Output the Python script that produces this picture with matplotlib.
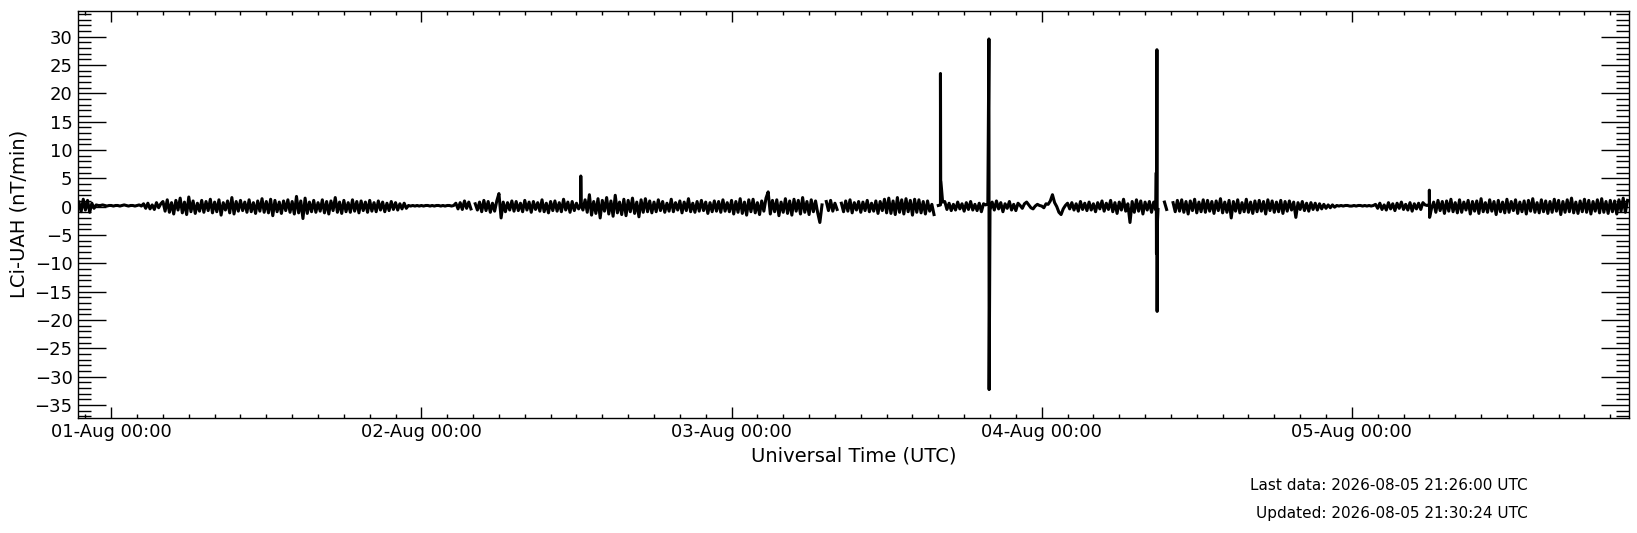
import numpy as np
import pandas as pd
import matplotlib
matplotlib.use('Agg')
import matplotlib.pyplot as plt
import matplotlib.dates as mdates

nan = np.nan

# LCi-UAH rate of change, 10-minute samples (nT/min)
# each list starts at 00:00 of its day, except jul31 which starts 21:30
jul31 = [0.8, -0.9, 1.3, -0.6, 1.1, -1.0, 0.6, -0.3,
         0.3, 0.2, 0.2, 0.3, 0.2, 0.1, 0.2]

aug01 = [0.2, 0.1, 0.2, 0.2, 0.1, 0.2, 0.3, 0.2, 0.1, 0.2, 0.2, 0.1, 0.2, 0.3, 0.1,
         0.5, -0.3, 0.6, -0.4, 0.3, -0.5, 0.7, -0.2, 0.5,
         0.9, -0.8, 1.2, -1.0, 0.7, -1.3, 1.1, -0.6, 1.5, -1.1,
         0.8, -1.4, 1.7, -0.9, 1.0, -1.2, 0.6, -0.8, 1.1, -1.0,
         0.9, -0.7, 1.3, -1.1, 0.8, -0.9, 1.2, -1.5, 0.7, -0.6,
         1.0, -1.1, 1.6, -1.3, 0.9, -0.8, 1.1, -0.7, 0.8, -1.0,
         1.2, -0.9, 0.7, -1.2, 1.0, -0.8, 1.4, -1.0, 0.9, -1.1,
         1.3, -1.6, 1.1, -0.9, 0.8, -1.2, 1.0, -0.7, 1.2, -1.0,
         0.9, -1.3, 1.8, -1.1, 1.0, -2.1, 1.5, -1.2, 0.8, -0.9,
         1.1, -1.0, 0.7, -0.8, 1.2, -1.1, 0.9, -1.3, 1.0, -0.7,
         1.6, -1.0, 0.8, -1.2, 1.1, -0.9, 0.7, -1.0, 1.2, -0.8,
         0.9, -1.1, 1.0, -0.7, 0.8, -1.0, 1.1, -0.8, 0.7, -0.9,
         1.0, -0.6, 0.8, -0.9, 0.6, -0.7, 0.9, -0.5, 0.7, -0.6,
         0.5, -0.4, 0.6, -0.3,
         0.2, 0.1, 0.2, 0.1, 0.2, 0.1]

aug02 = [0.2, 0.1, 0.2, 0.2, 0.1, 0.2, 0.1, 0.2, 0.2, 0.1, 0.2, 0.1, 0.2, 0.2, 0.1, 0.2,
         0.6, -0.4, 0.7, -0.5, 1.0, -0.3, 0.8, -0.4,
         nan,
         0.5, -0.6, 0.8, -0.9, 1.1, -0.7, 0.9, -1.0, 0.6, -0.8,
         1.0, 2.3, -2.0, 0.8, -0.9, 0.7, -0.6, 1.0, -0.8, 0.9,
         -0.7, 0.6, -0.9, 1.1, -0.6, 0.8, -1.0, 0.9, -0.5, 0.7,
         -0.8, 1.2, -0.9, 0.6, -1.1, 0.9, -0.7, 1.0, -0.8, 0.7,
         -0.9, 1.3, -0.6, 0.8, -1.0, 0.9, -0.7, 0.6, -0.4,
         0.5,
         -0.6, 1.2, -1.0, 2.1, -1.5, 0.9, -1.2, 1.4, -2.0, 1.1,
         -0.8, 1.6, -1.3, 1.0, -1.7, 2.0, -1.1, 0.8, -1.4, 1.3,
         -1.6, 1.1, -0.9, 1.5, -1.2, 0.8, -1.8, 1.2, -1.0, 1.4,
         -0.9, 1.0, -1.1,
         0.8, -0.9, 1.2, -0.7, 0.9, -1.0, 0.6, -0.8, 1.3, -0.9,
         0.7, -0.6, 1.0, -1.1, 0.8, -0.7, 1.4, -0.9, 0.6, -1.0,
         0.9, -0.8, 1.1, -0.7, 0.8, -1.2, 0.7, -0.9, 1.0, -0.8,
         0.9, -1.0, 1.2, -0.8, 0.7, -0.9]

aug03 = [1.1, -1.3, 0.9, -1.0, 1.4, -1.2, 0.8, -1.5, 1.2, -0.9,
         1.3, -1.1, 0.7, -1.4, 1.0, -0.8, 1.5, 2.6, -1.3, 1.1,
         -0.9, 1.2, -1.6, 0.8, -1.0, 1.4, -1.2, 1.0, -1.5, 1.3,
         -0.8, 1.1, -1.3, 1.6, -1.0, 0.9, -1.4, 1.2, -0.9, 1.0,
         -1.1, -2.8, 0.3, nan,
         0.9, -0.7, 1.1, -0.8, 0.6, -0.5, nan,
         0.6, -0.9, 1.0, -0.8, 1.2, -1.1, 0.7, -0.6, 0.9, -1.0,
         0.8, -0.7, 1.1, -0.9, 0.6, -0.8, 1.0, -1.2, 0.9, -0.7,
         1.3, -1.1, 1.5, -1.2, 1.0, -1.4, 1.6, -1.0, 1.2, -1.3,
         1.4, -0.9, 1.1, -1.5, 1.3, -1.0, 1.2, -1.1, 0.9, -1.3,
         1.0, -0.8, 0.4, -1.4, nan,
         0.2, 0.3, 0.8,
         0.9, -0.5, 0.6, -0.7, 0.4, -0.6, 0.8, -0.4, 0.5, -0.8,
         0.7, -0.5, 0.9, -0.6, 0.4, -0.7, 0.6, -0.9, 0.5, 0.3,
         0.5, -0.6,
         0.8, -0.6, 1.0, -0.4, 0.7, -0.9, 0.5, -0.3, 0.9, -0.6,
         0.4, -0.7, 0.6, 0.2, -0.3, 0.5, 0.8, 0.3, -0.2, -0.4,
         0.1, 0.4, 0.2]

aug04 = [0.1, -0.2, 0.5, 0.4, 1.0, 2.1, 0.7, 0.0, -1.0, -1.4, -0.4, 0.2,
         0.6, -0.4, 0.7, -0.6, 0.5, -0.8, 0.9, -0.5, 0.6, -0.7,
         0.8, -0.6, 0.5, -0.9, 0.7, -0.4, 1.0, -0.8, 0.6, -0.5,
         1.1, -0.9, 0.7, -1.2, 0.8, -0.6, 1.3, -0.8, 0.5,
         -2.8,
         0.9, -1.0, 1.2, -0.8, 1.0, -1.3, 0.8, -0.6, 0.9,
         -1.0, 0.8, -0.6, -0.5, nan, nan, 0.8, -0.5, nan, nan,
         0.7, -0.9, 1.1, -0.8, 1.2, -1.0, 0.9, -1.3, 1.0, -0.7,
         1.3, -1.1, 0.8, -0.9, 1.2, -1.0, 1.1, -0.8, 0.9, -1.2,
         1.0, -0.7, 1.4, -1.1, 0.8, -1.0, 1.1, -2.0, 0.9, -0.8,
         1.2, -1.1, 0.7, -0.9, 1.3, -1.0, 0.8, -1.2, 1.0, -0.9,
         1.1, -0.8, 0.9, -1.3, 1.2, -0.7, 1.0, -1.0, 0.8, -0.9,
         1.1, -1.2, 0.9, -0.8, 1.0, -0.6, 0.8, -1.9, 0.7, -0.5,
         0.9, -0.7, 0.6, -0.8, 0.7, -0.5, 0.6, -0.6, 0.5, -0.4,
         0.4, -0.3, 0.3, -0.2, 0.3, -0.1,
         0.2, 0.1, 0.2, 0.1, 0.2, 0.2, 0.1]

aug05 = [0.1, 0.2, 0.1, 0.2, 0.2, 0.1, 0.2, 0.1, 0.2, 0.1, 0.2,
         0.4, -0.3, 0.6, -0.5, 0.3, -0.6, 0.7, -0.4, 0.5, -0.7,
         0.6, -0.3, 0.8, -0.5, 0.4, -0.6, 0.7, -0.8, 0.5, -0.4,
         0.6, -0.5, 0.7, 0.3,
         0.2, 0.4, -0.3,
         0.8, -1.0, 1.1, -0.7, 0.9, -1.2, 1.0, -0.8, 1.3, -0.9,
         0.7, -1.1, 1.2, -1.0, 0.8, -0.6, 1.1, -1.3, 0.9, -0.8,
         1.0, -1.2, 1.4, -0.9, 0.7, -1.0, 1.2, -0.8, 0.9, -1.4,
         1.1, -0.9, 0.8, -1.1, 1.3, -1.0, 0.9, -0.7, 1.2, -1.2,
         0.8, -0.9, 1.0, -1.3, 1.1, -0.8, 1.4, -1.0, 0.7, -1.1,
         1.2, -0.9, 1.0, -1.2, 0.9, -1.0, 1.3, -0.8, 1.1, -1.4,
         0.9, -1.0, 1.2, -0.9, 1.5, -1.1, 0.8, -1.2, 1.0, -0.9,
         1.3, -1.0, 1.1, -1.3, 0.9, -0.8, 1.2, -1.1, 1.4, -1.0,
         0.9, -1.2, 1.1, -0.9, 1.0, -1.3, 1.2, -0.8, 1.5, -1.0,
         1.1]

# short spikes, read at 1-minute resolution
spike_times = ['2026-08-02 12:20', '2026-08-02 12:21',
               '2026-08-03 16:10', '2026-08-03 16:11', '2026-08-03 16:12',
               '2026-08-03 19:55', '2026-08-03 19:56',
               '2026-08-04 08:52', '2026-08-04 08:53', '2026-08-04 08:55',
               '2026-08-04 08:56', '2026-08-04 08:57',
               '2026-08-05 06:00', '2026-08-05 06:01']
spike_vals = [5.4, 0.3,
              23.5, 4.6, 4.4,
              29.6, -32.3,
              6.0, -8.3, 27.7,
              -18.5, -3.0,
              2.9, -1.9]

day_starts = ['2026-07-31 21:30', '2026-08-01', '2026-08-02',
              '2026-08-03', '2026-08-04', '2026-08-05']
last_data = '2026-08-05 21:26:00'
updated = '2026-08-05 21:30:24'

# stitch the days together on a 10 minute grid, then slot the spikes in
times, vals = [], []
for start, day in zip(day_starts, [jul31, aug01, aug02, aug03, aug04, aug05]):
    times.append(pd.date_range(start, periods=len(day), freq='10min'))
    vals.append(np.array(day, dtype=float))
times.append(pd.to_datetime(spike_times))
vals.append(np.array(spike_vals, dtype=float))
t = np.concatenate([np.asarray(x) for x in times])
y = np.concatenate(vals)
order = np.argsort(t, kind='stable')
t, y = t[order], y[order]

t_end = pd.Timestamp(last_data)
t_start = t_end - pd.Timedelta(days=5)

fig = plt.figure(figsize=(16.37, 5.33), dpi=100)
ax = fig.add_axes([0.0477, 0.216, 0.9473, 0.764])

ax.plot(t, y, color='black', lw=2.2)

ax.set_xlim(t_start, t_end)
ax.set_ylim(np.nanmin(y) - 5, np.nanmax(y) + 5)

ax.xaxis.set_major_locator(mdates.DayLocator())
ax.xaxis.set_major_formatter(mdates.DateFormatter('%d-%b %H:%M'))
ax.xaxis.set_minor_locator(mdates.HourLocator(byhour=range(0, 24, 2)))
ax.yaxis.set_major_locator(plt.MultipleLocator(5))
ax.yaxis.set_minor_locator(plt.MultipleLocator(1))

ax.tick_params(which='both', direction='in', top=True, right=True, labelsize=13, width=1)
ax.tick_params(axis='y', which='major', length=20, pad=4)
ax.tick_params(axis='y', which='minor', length=9.5)
ax.tick_params(axis='x', which='major', length=8, pad=3.5)
ax.tick_params(axis='x', which='minor', length=3)
for s in ax.spines.values():
    s.set_linewidth(1.0)

ax.set_xlabel('Universal Time (UTC)', fontsize=14, labelpad=4)
ax.set_ylabel('LCi-UAH (nT/min)', fontsize=14)

fig.text(0.933, 0.090, 'Last data: ' + last_data + ' UTC', ha='right', va='center', fontsize=11)
fig.text(0.933, 0.0375, 'Updated: ' + updated + ' UTC', ha='right', va='center', fontsize=11)

fig.savefig('out.png', dpi=100)
